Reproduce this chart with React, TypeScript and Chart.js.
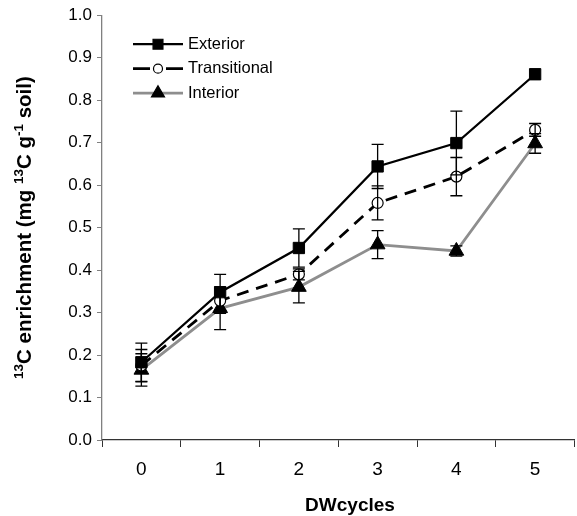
import React, { useEffect, useRef } from 'react';
import { Chart, registerables } from 'chart.js';
Chart.register(...registerables);

const cycles = ['0', '1', '2', '3', '4', '5'];
const exterior = [0.183, 0.348, 0.452, 0.644, 0.699, 0.861];
const exteriorErr = [0.045, 0.042, 0.045, 0.052, 0.075, 0];
const transitional = [0.175, 0.328, 0.39, 0.558, 0.62, 0.73];
const transitionalErr = [0.038, 0.03, 0.013, 0.04, 0.045, 0.015];
const interior = [0.165, 0.31, 0.36, 0.46, 0.445, 0.698];
const interiorErr = [0.038, 0.05, 0.037, 0.033, 0.012, 0.023];
const yTickValues = [0, 0.1, 0.2, 0.3, 0.4, 0.5, 0.6, 0.7, 0.8, 0.9, 1.0];
const seriesNames = ['Exterior', 'Transitional', 'Interior'];

const FONT = '"Liberation Sans", Arial, Helvetica, sans-serif';
const GRAY_LINE = '#8e8e8e';

function drawMarker(ctx: CanvasRenderingContext2D, style: string, x: number, y: number, r: number, fill: string) {
  ctx.save();
  ctx.beginPath();
  if (style === 'rect') {
    const s = Math.SQRT1_2 * r;
    ctx.rect(x - s, y - s, 2 * s, 2 * s);
  } else if (style === 'circle') {
    ctx.arc(x, y, r, 0, Math.PI * 2);
  } else if (style === 'triangle') {
    let rad = 0;
    ctx.moveTo(x + Math.sin(rad) * r, y - Math.cos(rad) * r);
    rad += (2 * Math.PI) / 3;
    ctx.lineTo(x + Math.sin(rad) * r, y - Math.cos(rad) * r);
    rad += (2 * Math.PI) / 3;
    ctx.lineTo(x + Math.sin(rad) * r, y - Math.cos(rad) * r);
    ctx.closePath();
  }
  ctx.fillStyle = fill;
  ctx.fill();
  ctx.strokeStyle = '#000';
  ctx.lineWidth = 1.2;
  ctx.stroke();
  ctx.restore();
}

const errorBarPlugin = {
  id: 'errorBars',
  afterDatasetsDraw(chart: any) {
    const ctx = chart.ctx as CanvasRenderingContext2D;
    const yScale = chart.scales.y;
    chart.data.datasets.forEach((ds: any, i: number) => {
      const meta = chart.getDatasetMeta(i);
      const errs: number[] = ds.errors || [];
      meta.data.forEach((pt: any, j: number) => {
        const e = errs[j];
        if (!e) return;
        const v = ds.data[j];
        const top = yScale.getPixelForValue(v + e);
        const bot = yScale.getPixelForValue(v - e);
        const x = pt.x;
        ctx.save();
        ctx.strokeStyle = '#000';
        ctx.lineWidth = 1.3;
        ctx.beginPath();
        ctx.moveTo(x, top);
        ctx.lineTo(x, bot);
        ctx.moveTo(x - 6, top);
        ctx.lineTo(x + 6, top);
        ctx.moveTo(x - 6, bot);
        ctx.lineTo(x + 6, bot);
        ctx.stroke();
        ctx.restore();
      });
    });
  },
};

const decorPlugin = {
  id: 'decor',
  afterDraw(chart: any) {
    const ctx = chart.ctx as CanvasRenderingContext2D;
    const area = chart.chartArea;
    // Legend
    const lx0 = area.left + 31;
    const lx1 = area.left + 81;
    const ly0 = area.top + 29;
    const rowGap = 24.5;
    chart.data.datasets.forEach((ds: any, i: number) => {
      const y = ly0 + i * rowGap;
      ctx.save();
      ctx.strokeStyle = ds.borderColor;
      ctx.lineWidth = ds.borderWidth;
      ctx.beginPath();
      if (ds.borderDash && ds.borderDash.length) {
        ctx.moveTo(lx0, y);
        ctx.lineTo(lx0 + 17, y);
        ctx.moveTo(lx1 - 17, y);
        ctx.lineTo(lx1, y);
      } else {
        ctx.moveTo(lx0, y);
        ctx.lineTo(lx1, y);
      }
      ctx.stroke();
      ctx.restore();
      const mr = ds.pointStyle === 'circle' ? 4.5 : ds.pointRadius - 1;
      drawMarker(ctx, ds.pointStyle, (lx0 + lx1) / 2, y, mr, ds.pointBackgroundColor);
      ctx.save();
      ctx.fillStyle = '#000';
      ctx.font = `16.5px ${FONT}`;
      ctx.textBaseline = 'middle';
      ctx.textAlign = 'left';
      ctx.fillText(seriesNames[i], lx1 + 5, y);
      ctx.restore();
    });

    // X title
    ctx.save();
    ctx.fillStyle = '#000';
    ctx.font = `bold 19px ${FONT}`;
    ctx.textAlign = 'center';
    ctx.textBaseline = 'middle';
    ctx.fillText('DWcycles', 350, 506);
    ctx.restore();

    // Y title with superscripts
    const segs: [string, boolean][] = [
      ['13', true],
      ['C enrichment (mg ', false],
      ['13', true],
      ['C g', false],
      ['-1', true],
      [' soil)', false],
    ];
    const mainFont = `bold 20.5px ${FONT}`;
    const supFont = `bold 13.5px ${FONT}`;
    ctx.save();
    let total = 0;
    segs.forEach(([t, sup]) => {
      ctx.font = sup ? supFont : mainFont;
      total += ctx.measureText(t).width;
    });
    const cy = (area.top + area.bottom) / 2;
    ctx.translate(24, cy);
    ctx.rotate(-Math.PI / 2);
    ctx.fillStyle = '#000';
    ctx.textBaseline = 'alphabetic';
    ctx.textAlign = 'left';
    let x = -total / 2;
    segs.forEach(([t, sup]) => {
      ctx.font = sup ? supFont : mainFont;
      ctx.fillText(t, x, sup ? -1.5 : 7);
      x += ctx.measureText(t).width;
    });
    ctx.restore();
  },
};

export default function App() {
  const canvasRef = useRef<HTMLCanvasElement | null>(null);

  useEffect(() => {
    document.body.style.margin = '0';
    const canvas = canvasRef.current;
    if (!canvas) return;
    const chart = new Chart(canvas, {
      type: 'line',
      data: {
        labels: cycles,
        datasets: [
          {
            label: seriesNames[0],
            data: exterior,
            errors: exteriorErr,
            borderColor: '#000',
            borderWidth: 2.3,
            pointStyle: 'rect',
            pointRadius: 8,
            pointBackgroundColor: '#000',
            pointBorderColor: '#000',
            pointBorderWidth: 1,
            tension: 0,
          } as any,
          {
            label: seriesNames[1],
            data: transitional,
            errors: transitionalErr,
            borderColor: '#000',
            borderWidth: 2.8,
            borderDash: [12, 8],
            pointStyle: 'circle',
            pointRadius: 5.5,
            pointBackgroundColor: '#fff',
            pointBorderColor: '#000',
            pointBorderWidth: 1.2,
            tension: 0,
          } as any,
          {
            label: seriesNames[2],
            data: interior,
            errors: interiorErr,
            borderColor: GRAY_LINE,
            borderWidth: 2.8,
            pointStyle: 'triangle',
            pointRadius: 8.5,
            pointBackgroundColor: '#000',
            pointBorderColor: '#000',
            pointBorderWidth: 1,
            tension: 0,
          } as any,
        ],
      },
      options: {
        animation: false,
        responsive: false,
        layout: { padding: { top: 14, right: 1, bottom: 0, left: 0 } },
        plugins: {
          legend: { display: false },
          tooltip: { enabled: false },
        },
        scales: {
          x: {
            type: 'category',
            offset: true,
            grid: {
              offset: true,
              drawOnChartArea: false,
              drawTicks: true,
              tickLength: 7,
              color: '#333',
              lineWidth: 1,
            },
            border: { display: true, color: '#333', width: 1.3 },
            ticks: {
              color: '#000',
              font: { family: FONT, size: 19 },
              padding: 11,
              maxRotation: 0,
            },
            afterFit: (scale: any) => {
              scale.height = 76;
            },
          },
          y: {
            type: 'linear',
            min: 0,
            max: 1,
            afterBuildTicks: (scale: any) => {
              scale.ticks = yTickValues.map((v) => ({ value: v }));
            },
            grid: {
              drawOnChartArea: false,
              drawTicks: true,
              tickLength: 5,
              color: '#808080',
              lineWidth: 1,
            },
            border: { display: true, color: '#808080', width: 1.3 },
            ticks: {
              color: '#000',
              font: { family: FONT, size: 17 },
              padding: 5,
              callback: (v: any) => Number(v).toFixed(1),
            },
            afterFit: (scale: any) => {
              scale.width = 102;
            },
          },
        },
      } as any,
      plugins: [errorBarPlugin, decorPlugin],
    });
    return () => chart.destroy();
  }, []);

  return (
    <div style={{ width: 577, height: 516, overflow: 'hidden', background: '#fff' }}>
      <canvas ref={canvasRef} width={584} height={516} style={{ display: 'block' }} />
    </div>
  );
}
